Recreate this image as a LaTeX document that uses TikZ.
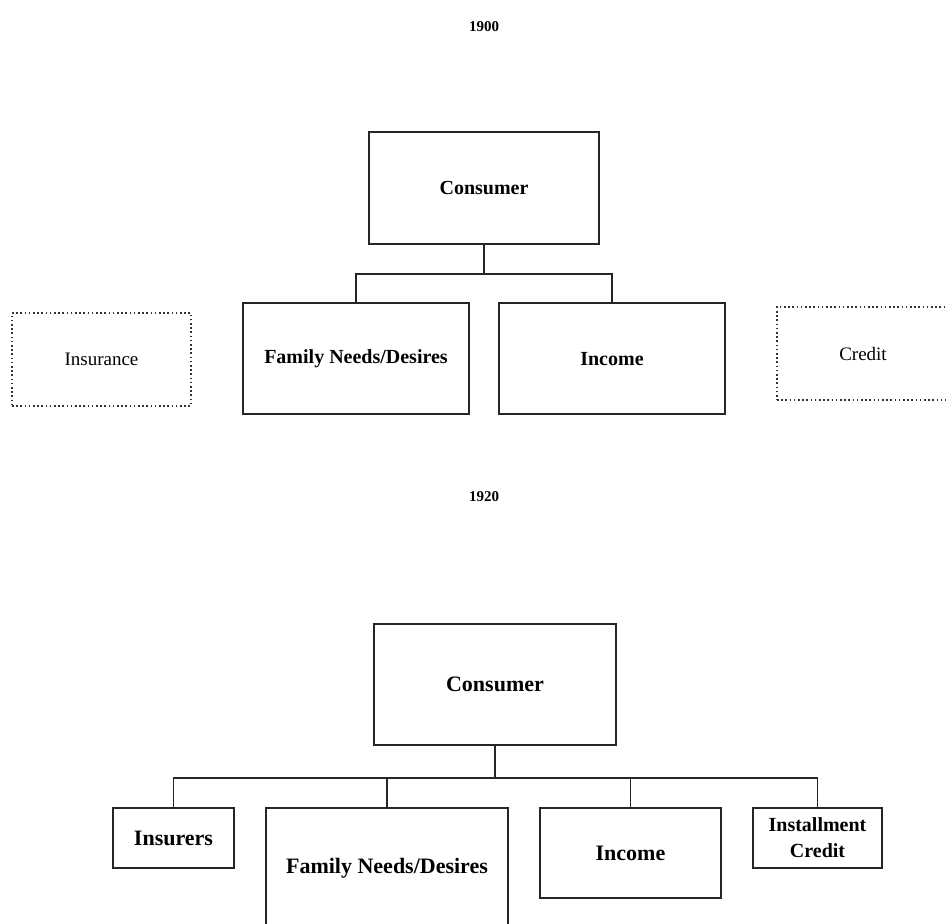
\documentclass[tikz,border=0pt]{standalone}
\usepackage{fontspec}
\setmainfont{Liberation Serif}
\usetikzlibrary{positioning}

\begin{document}
\begin{tikzpicture}[
  x=1pt, y=-1pt,
  bnode/.style={rectangle, draw=black!85, line width=2.2pt, text centered, inner sep=2pt, font=\bfseries\fontsize{20}{23}\selectfont},
  bbnode/.style={bnode, font=\bfseries\fontsize{22}{26}\selectfont},
  dnode/.style={rectangle, draw=black!80, line width=1.6pt, dash pattern=on 1.6pt off 2.6pt, text centered, font=\fontsize{19}{22}\selectfont},
  ynode/.style={text centered, font=\bfseries\fontsize{15}{18}\selectfont},
  conn/.style={-, line width=1.8pt, draw=black!85}
  ]

\path [use as bounding box, clip] (0,0) rectangle (946,924);

% 1900
\node [ynode] (y1900) at (484,27) {1900};

\node [bnode, minimum width=230pt, minimum height=112pt] (con1) at (484,188) {Consumer};
\draw [conn] (con1.south) -- ++(0,29) coordinate (j1);
\node [bnode, anchor=north, minimum width=226pt, minimum height=111pt] (fam1) at (356,302) {Family Needs/Desires};
\node [bnode, anchor=north, minimum width=226pt, minimum height=111pt] (inc1) at (612,302) {Income};
\node [dnode, minimum width=179pt, minimum height=93pt] (ins1) at (101.5,359.5) {Insurance};
\node [dnode, minimum width=172pt, minimum height=93pt] (cred1) at (863,353.5) {Credit};

\draw [conn] (j1) -| (fam1.north);
\draw [conn] (j1) -| (inc1.north);

% 1920
\node [ynode] (y1920) at (484,497) {1920};

\node [bbnode, minimum width=242pt, minimum height=121pt] (con2) at (495,684.5) {Consumer};
\draw [conn] (con2.south) -- ++(0,32) coordinate (j2);
\node [bbnode, anchor=north, minimum width=121pt, minimum height=60pt] (ins2) at (173.5,807) {Insurers};
\node [bbnode, anchor=north, minimum width=242pt, minimum height=120pt] (fam2) at (387,807) {Family Needs/Desires};
\node [bbnode, anchor=north, minimum width=181pt, minimum height=90pt] (inc2) at (630.5,807) {Income};
\node [bbnode, anchor=north, minimum width=129pt, minimum height=60pt, align=center, inner sep=1pt,
  font=\bfseries\fontsize{20}{26}\selectfont] (cred2) at (817.5,807) {Installment\\Credit};

\draw [conn] (j2) -| (ins2.north);
\draw [conn] (j2) -| (fam2.north);
\draw [conn] (j2) -| (inc2.north);
\draw [conn] (j2) -| (cred2.north);

\end{tikzpicture}
\end{document}
